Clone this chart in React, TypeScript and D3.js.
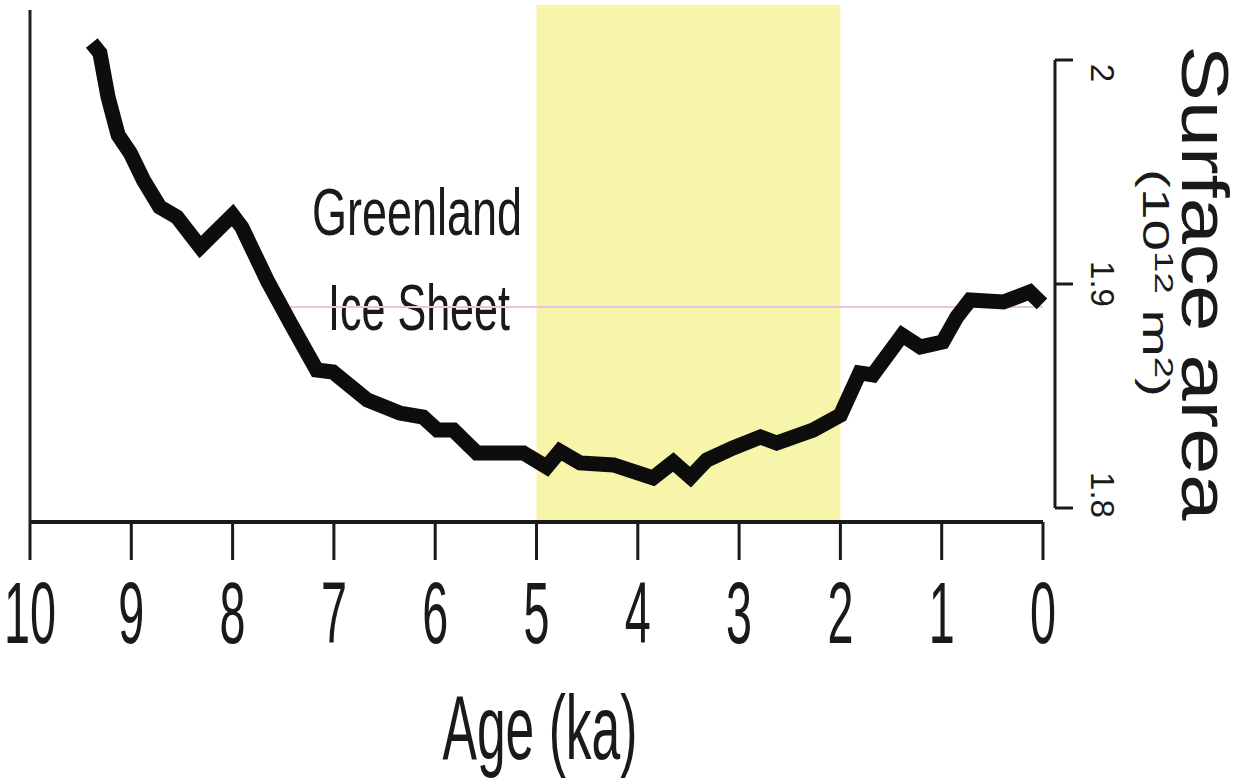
import React from "react";
import * as d3 from "d3";

// Greenland ice sheet surface area through the Holocene
const ages = [
  9.39, 9.31, 9.23, 9.13, 9.01, 8.88, 8.72, 8.55, 8.32, 8.0, 7.91, 7.66, 7.43,
  7.17, 7.01, 6.67, 6.35, 6.12, 5.98, 5.82, 5.59, 5.13, 4.9, 4.77, 4.57, 4.24,
  3.85, 3.65, 3.48, 3.32, 3.06, 2.79, 2.63, 2.27, 2.0, 1.81, 1.68, 1.39, 1.21,
  0.99, 0.85, 0.72, 0.39, 0.13, 0.01,
];
const areas = [
  2.0076, 2.0031, 1.9835, 1.9665, 1.9585, 1.9464, 1.9344, 1.9299, 1.9165,
  1.9308, 1.9254, 1.9018, 1.8826, 1.8616, 1.8607, 1.8482, 1.8424, 1.8406,
  1.8348, 1.8348, 1.8246, 1.8246, 1.8183, 1.8254, 1.8201, 1.8192, 1.8134,
  1.8205, 1.8138, 1.8214, 1.8268, 1.8317, 1.829, 1.8348, 1.8415, 1.8603,
  1.8594, 1.8772, 1.8719, 1.8741, 1.8853, 1.8929, 1.892, 1.8964, 1.8911,
];
const ageTicks = [10, 9, 8, 7, 6, 5, 4, 3, 2, 1, 0];
const areaTicks = [2, 1.9, 1.8];
const areaTickLabels = ["2", "1.9", "1.8"];
const band = [5, 2]; // highlighted interval (ka)
const modernLevel = 1.8897;
const modernFrom = 7.45;

const font = "'Liberation Sans', Arial, sans-serif";

const App = () => {
  const width = 1243;
  const height = 778;

  const x = d3.scaleLinear().domain([10, 0]).range([30, 1043]);
  const y = d3.scaleLinear().domain([1.8, 2]).range([508, 60]);
  const axisY = 522;
  const rightX = 1055;
  // labels on the right axis sit a little inside the end ticks
  const labelShift = [13, 0, -13];

  const points = ages.map((a, i) => [a, areas[i]] as [number, number]);
  const line = d3
    .line<[number, number]>()
    .x((d) => x(d[0]))
    .y((d) => y(d[1]));

  return (
    <svg
      width={width}
      height={height}
      style={{ position: "absolute", left: 0, top: 0, background: "#fff" }}
    >
      {/* yellow interval */}
      <rect
        x={x(band[0])}
        y={5}
        width={x(band[1]) - x(band[0])}
        height={axisY - 5}
        fill="#f7f5aa"
      />

      {/* left frame line */}
      <line x1={x(10)} x2={x(10)} y1={10} y2={axisY} stroke="#222" strokeWidth={3} />

      {/* label */}
      <text
        x={417}
        y={235}
        fontFamily={font}
        fontSize={66}
        textAnchor="middle"
        textLength={210}
        lengthAdjust="spacingAndGlyphs"
        fill="#1a1a1a"
      >
        Greenland
      </text>
      <text
        x={419}
        y={330}
        fontFamily={font}
        fontSize={65}
        textAnchor="middle"
        textLength={182}
        lengthAdjust="spacingAndGlyphs"
        fill="#1a1a1a"
      >
        Ice Sheet
      </text>

      {/* modern reference level */}
      <line
        x1={x(modernFrom)}
        x2={x(0)}
        y1={y(modernLevel)}
        y2={y(modernLevel)}
        stroke="#e6c6de"
        strokeWidth={2}
      />

      {/* series */}
      <path
        d={line(points) || ""}
        fill="none"
        stroke="#0d0d0d"
        strokeWidth={15}
        strokeLinejoin="miter"
        strokeMiterlimit={3}
      />

      {/* x axis */}
      <line x1={x(10)} x2={x(0)} y1={axisY} y2={axisY} stroke="#1a1a1a" strokeWidth={4} />
      {ageTicks.map((t) => (
        <g key={t}>
          <line
            x1={x(t)}
            x2={x(t)}
            y1={axisY}
            y2={560}
            stroke="#1a1a1a"
            strokeWidth={3}
          />
          <text
            x={x(t)}
            y={643}
            fontFamily={font}
            fontSize={88}
            textAnchor="middle"
            textLength={String(t).length * 26}
            lengthAdjust="spacingAndGlyphs"
            fill="#1a1a1a"
          >
            {t}
          </text>
        </g>
      ))}
      <text
        x={540}
        y={759}
        fontFamily={font}
        fontSize={90}
        textAnchor="middle"
        textLength={195}
        lengthAdjust="spacingAndGlyphs"
        fill="#1a1a1a"
      >
        Age (ka)
      </text>

      {/* right axis */}
      <line x1={rightX} x2={rightX} y1={y(2)} y2={y(1.8)} stroke="#1a1a1a" strokeWidth={3} />
      {areaTicks.map((t, i) => (
        <g key={t}>
          <line
            x1={rightX}
            x2={rightX + 18}
            y1={y(t)}
            y2={y(t)}
            stroke="#1a1a1a"
            strokeWidth={3}
          />
          <text
            transform={`translate(1091, ${y(t) + labelShift[i]}) rotate(90)`}
            fontFamily={font}
            fontSize={33}
            textAnchor="middle"
            fill="#1a1a1a"
          >
            {areaTickLabels[i]}
          </text>
        </g>
      ))}
      <text
        transform={`translate(1143, 283) rotate(90)`}
        fontFamily={font}
        fontSize={37}
        textAnchor="middle"
        textLength={228}
        lengthAdjust="spacingAndGlyphs"
        fill="#1a1a1a"
      >
        (10
        <tspan dy={-12} fontSize={25}>
          12
        </tspan>
        <tspan dy={12}> m</tspan>
        <tspan dy={-12} fontSize={25}>
          2
        </tspan>
        <tspan dy={12}>)</tspan>
      </text>
      <text
        transform={`translate(1182, 283) rotate(90)`}
        fontFamily={font}
        fontSize={66}
        textAnchor="middle"
        textLength={475}
        lengthAdjust="spacingAndGlyphs"
        fill="#1a1a1a"
      >
        Surface area
      </text>
    </svg>
  );
};

export default App;
